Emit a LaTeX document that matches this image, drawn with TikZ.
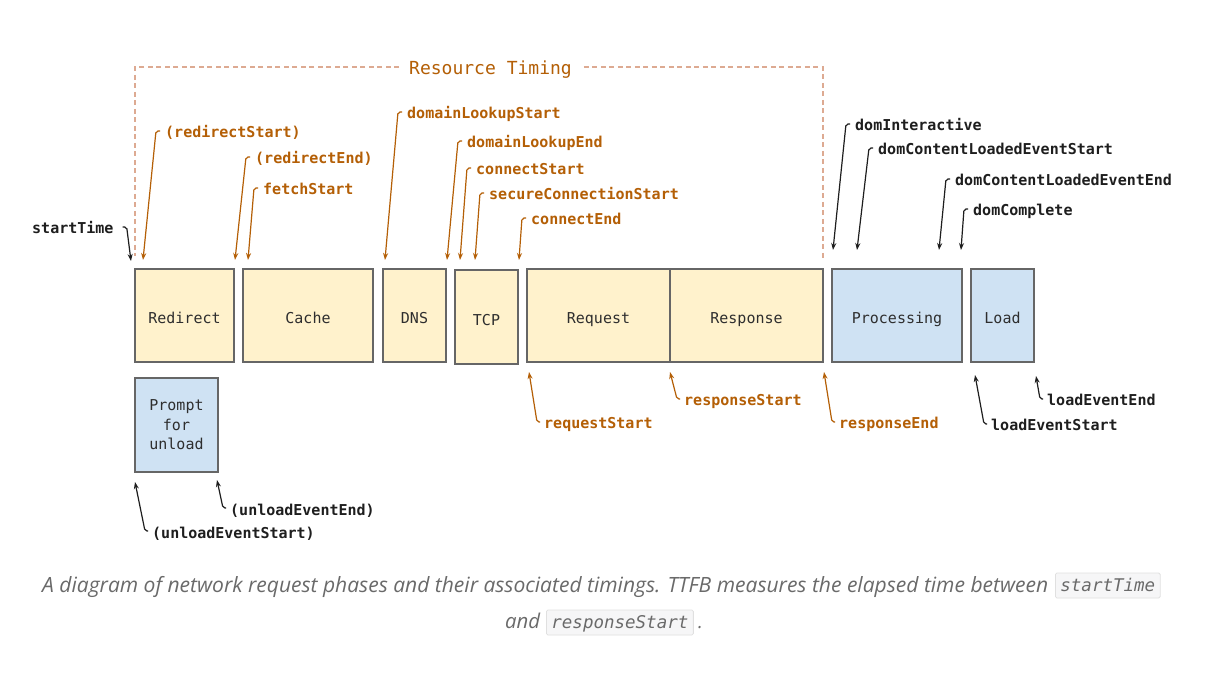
\documentclass[tikz,border=0pt]{standalone}
\usepackage{fontspec}
\usepackage{graphicx}
\setmonofont{DejaVu Sans Mono}
\newfontfamily\capfont{Open Sans}
\usetikzlibrary{arrows.meta,calc}
\definecolor{orn}{HTML}{B45F06}
\definecolor{dshc}{HTML}{DDAA92}
\definecolor{bordc}{HTML}{666666}
\definecolor{yelc}{HTML}{FFF2CC}
\definecolor{bluc}{HTML}{CFE2F3}
\definecolor{txtc}{HTML}{2E2E2E}
\definecolor{blk}{HTML}{1E1E1E}
\definecolor{capc}{HTML}{6A6A6A}
\definecolor{codebg}{HTML}{F6F6F7}
\definecolor{codebd}{HTML}{E0E0E0}
\tikzset{
  phase/.style={draw=bordc, line width=1.4pt, minimum height=93pt, inner sep=0pt,
    font=\ttfamily\fontsize{15}{18}\selectfont, text=txtc, text height=18pt, text depth=1pt},
  yel/.style={phase, fill=yelc},
  blu/.style={phase, fill=bluc},
  olab/.style={anchor=west, inner sep=0pt, text=orn,
    font=\ttfamily\bfseries\fontsize{15}{18}\selectfont, text height=17pt, text depth=3pt},
  klab/.style={olab, text=blk},
  oarr/.style={draw=orn, line width=1.2pt, rounded corners=2pt,
    -{Stealth[length=7pt,width=5pt]}},
  karr/.style={oarr, draw=blk},
  dsh/.style={draw=dshc, line width=1.2pt, dash pattern=on 5pt off 3.5pt},
  capt/.style={anchor=base west, inner sep=0pt, text=capc},
  codebox/.style={anchor=base west, draw=codebd, fill=codebg, line width=0.8pt,
    rounded corners=1.5pt, inner xsep=5pt, inner ysep=5pt, text height=13pt, text depth=2pt,
    text=capc, font=\ttfamily\itshape\fontsize{17.5}{20}\selectfont},
}
\begin{document}
\begin{tikzpicture}[x=1pt,y=-1pt]
\path[use as bounding box, fill=white] (0,0) rectangle (1232,692);

% phase boxes
\node[yel, minimum width=99pt]  (redir) at (184.5,315.5) {Redirect};
\node[yel, minimum width=130pt] (cache) at (308,315.5) {Cache};
\node[yel, minimum width=63pt]  (dns)   at (414.5,315.5) {DNS};
\node[yel, minimum width=63pt, minimum height=94pt] (tcp) at (486.5,317) {TCP};
\node[yel, minimum width=143pt] (req)   at (598.5,315.5) {Request};
\node[yel, minimum width=153pt] (resp)  at (746.5,315.5) {Response};
\node[blu, minimum width=130pt] (proc)  at (897,315.5) {Processing};
\node[blu, minimum width=63pt]  (load)  at (1002.5,315.5) {Load};
\node[blu, minimum width=83pt, minimum height=94pt, align=center, text height=, text depth=,
  font=\ttfamily\fontsize{15}{19.5}\selectfont] (prompt) at (176.5,425) {Prompt\\for\\unload};

% Resource Timing bracket
\node[inner sep=0pt, text=orn, font=\ttfamily\fontsize{18}{20}\selectfont] (rt) at (490.5,70) {Resource Timing};
\coordinate (rtL) at (135,256);
\coordinate (rtR) at (823,258);
\draw[dsh] ($(rt.west)+(-10,-3)$) -| (rtL);
\draw[dsh] ($(rt.east)+(12,-3)$) -| (rtR);

% top labels
\node[klab] (lST)   at (32,227)  {startTime};
\node[olab] (lRS)   at (165,131) {(redirectStart)};
\node[olab] (lRE)   at (255,157) {(redirectEnd)};
\node[olab] (lFS)   at (263,188) {fetchStart};
\node[olab] (lDLS)  at (407,112) {domainLookupStart};
\node[olab] (lDLE)  at (467,141) {domainLookupEnd};
\node[olab] (lCS)   at (476,168) {connectStart};
\node[olab] (lSCS)  at (489,193) {secureConnectionStart};
\node[olab] (lCE)   at (531,218) {connectEnd};
\node[klab] (lDI)   at (855,124) {domInteractive};
\node[klab] (lDCLS) at (878,148) {domContentLoadedEventStart};
\node[klab] (lDCLE) at (955,179) {domContentLoadedEventEnd};
\node[klab] (lDC)   at (973,209) {domComplete};

% bottom labels
\node[olab] (lReqS) at (544,422) {requestStart};
\node[olab] (lResS) at (684,399) {responseStart};
\node[olab] (lResE) at (839,422) {responseEnd};
\node[klab] (lLES)  at (991,424) {loadEventStart};
\node[klab] (lLEE)  at (1047,399) {loadEventEnd};
\node[klab] (lUES)  at (152,531) {(unloadEventStart)};
\node[klab] (lUEE)  at (230,508) {(unloadEventEnd)};

% tip coordinates
\coordinate (tST)   at (131,261);
\coordinate (tRS)   at (143,260);
\coordinate (tRE)   at (235,260);
\coordinate (tFS)   at (248,260);
\coordinate (tDLS)  at (385,260);
\coordinate (tDLE)  at (447,260);
\coordinate (tCS)   at (460,260);
\coordinate (tSCS)  at (475,260);
\coordinate (tCE)   at (519,260);
\coordinate (tDI)   at (833,250);
\coordinate (tDCLS) at (857,250);
\coordinate (tDCLE) at (939,250);
\coordinate (tDC)   at (961,250);
\coordinate (tReqS) at (529,372);
\coordinate (tResS) at (670,372);
\coordinate (tResE) at (824,372);
\coordinate (tLES)  at (975,375);
\coordinate (tLEE)  at (1036,376);
\coordinate (tUES)  at (135,482);
\coordinate (tUEE)  at (217,480);

% top arrows
\draw[karr] ($(lST.east)+(9,0)$) -- ++(4,0) -- (tST);
\foreach \n in {RS,RE,FS,DLS,DLE,CS,SCS,CE}
  \draw[oarr] ($(l\n.west)+(-5,0)$) -- ++(-4,0) -- (t\n);
\foreach \n in {DI,DCLS,DCLE,DC}
  \draw[karr] ($(l\n.west)+(-5,0)$) -- ++(-4,0) -- (t\n);
% bottom arrows
\foreach \n in {ReqS,ResS,ResE}
  \draw[oarr] ($(l\n.west)+(-4,0)$) -- ++(-3,0) -- (t\n);
\foreach \n in {LES,LEE,UES,UEE}
  \draw[karr] ($(l\n.west)+(-4,0)$) -- ++(-3,0) -- (t\n);

% caption
\node[capt] (cap1) at (42,592) {\resizebox{1006pt}{!}{\capfont\itshape A diagram of network request phases and their associated timings. TTFB measures the elapsed time between}};
\node[codebox] (c1) at (1055,591) {startTime};
\node[capt] (cap2) at (505,628) {\resizebox{35pt}{!}{\capfont\itshape and}};
\node[codebox] (c2) at (546,628) {responseStart};
\node[capt] (cap3) at (698,628) {\capfont\itshape\fontsize{19}{22}\selectfont .};
\end{tikzpicture}
\end{document}
